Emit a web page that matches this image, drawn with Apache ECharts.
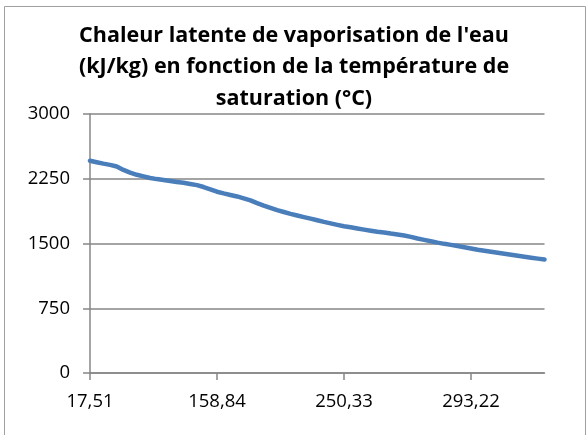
<!DOCTYPE html>
<html>
<head>
<meta charset="utf-8">
<script src="https://cdn.jsdelivr.net/npm/echarts@6/dist/echarts.min.js"></script>
<style>
  html, body { margin: 0; padding: 0; background: #fff; }
  #chart { width: 588px; height: 435px; }
</style>
</head>
<body>
<div id="chart"></div>
<script>
const titleLines = [
    'Chaleur latente de vaporisation de l\'eau',
    '(kJ/kg) en fonction de la température de',
    'saturation (°C)'
];

// température de saturation (°C)
const temperatures = [
    '17,51', '28,98', '36,18', '41,53', '45,83', '60,09', '75,89', '85,95', '93,51', '99,63',
    '104,81', '109,32', '113,32', '116,93', '120,23', '127,43', '133,54', '143,63', '151,85', '158,84',
    '164,97', '170,43', '175,38', '179,91', '187,99', '195,07', '201,41', '207,15', '212,42',
    '217,31', '221,83', '226,05', '230,02', '233,85', '237,45', '240,88', '244,16', '247,31', '250,33',
    '253,24', '256,05', '258,75', '261,37', '263,91', '266,38', '268,76', '271,08', '273,33', '275,55',
    '277,7', '279,8', '281,9', '283,9', '285,88', '287,8', '289,6', '291,4', '293,22',
    '295,06', '296,8', '298,5', '300,1', '301,7', '303,31', '305,0', '306,5', '308,0', '309,5', '311,06'
];

// chaleur latente (kJ/kg)
const latentHeat = [
    2458, 2441, 2425, 2411, 2392, 2352, 2321, 2296, 2277, 2259,
    2246, 2235, 2224, 2213, 2203, 2190, 2176, 2154, 2128, 2100,
    2080, 2062, 2045, 2023, 2000, 1968, 1939, 1912, 1886,
    1865, 1843, 1825, 1806, 1788, 1769, 1750, 1733, 1716, 1700,
    1688, 1674, 1661, 1648, 1636, 1627, 1615, 1605, 1593, 1577,
    1558, 1542, 1526, 1510, 1496, 1484, 1471, 1457, 1443,
    1428, 1416, 1404, 1392, 1381, 1369, 1358, 1347, 1336, 1325, 1315
];

const yTicks = [0, 750, 1500, 2250, 3000];

const gray = '#868686';
const font = '"Open Sans", "Noto Sans", sans-serif';

const chart = echarts.init(document.getElementById('chart'), null, { renderer: 'canvas' });

chart.setOption({
    animation: false,
    backgroundColor: '#fff',
    title: {
        text: titleLines.join('\n'),
        left: 'center',
        top: 15,
        textStyle: {
            fontFamily: font,
            fontWeight: 'bold',
            fontSize: 21.5,
            lineHeight: 31.5,
            color: '#000'
        }
    },
    graphic: [{
        type: 'rect',
        shape: { x: 4.5, y: 6.5, width: 581, height: 440 },
        style: { fill: 'none', stroke: '#a0a0a0', lineWidth: 1 },
        silent: true
    }],
    grid: { left: 90, right: 43.5, top: 114, bottom: 62 },
    xAxis: {
        type: 'category',
        data: temperatures,
        boundaryGap: false,
        axisLine: { lineStyle: { color: gray, width: 1.5 } },
        axisTick: { interval: 18, length: 7, lineStyle: { color: gray, width: 1.5 } },
        axisLabel: {
            interval: 18,
            margin: 19,
            fontFamily: font,
            fontSize: 18.5,
            color: '#000'
        },
        splitLine: { show: false }
    },
    yAxis: {
        type: 'value',
        min: yTicks[0],
        max: yTicks[yTicks.length - 1],
        interval: yTicks[1] - yTicks[0],
        axisLine: { show: true, lineStyle: { color: gray, width: 1.5 } },
        axisTick: { show: true, length: 7, lineStyle: { color: gray, width: 1.5 } },
        axisLabel: {
            margin: 20,
            fontFamily: font,
            fontSize: 18.5,
            color: '#000',
            formatter: v => String(v)
        },
        splitLine: { lineStyle: { color: gray, width: 1.5 } }
    },
    series: [{
        type: 'line',
        data: latentHeat,
        showSymbol: false,
        smooth: false,
        lineStyle: { color: '#4a7ebb', width: 4.5, cap: 'round', join: 'round' }
    }]
});
</script>
</body>
</html>
